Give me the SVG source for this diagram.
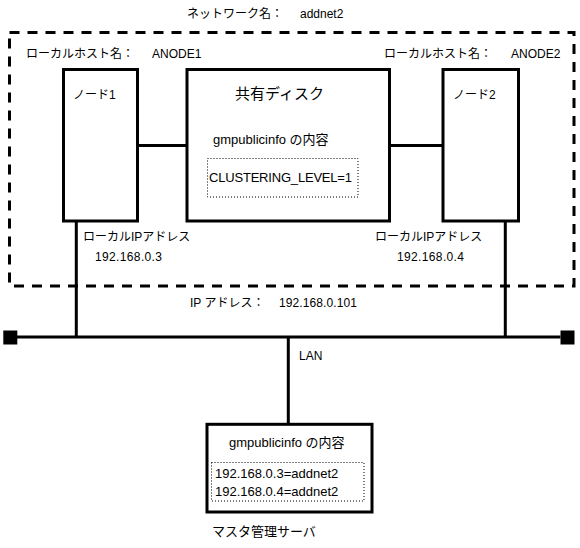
<svg xmlns="http://www.w3.org/2000/svg" width="580" height="548" viewBox="0 0 580 548">
<style>
text{font-family:"Liberation Sans","Noto Sans CJK JP",sans-serif;font-size:12px;fill:#000}
.m{font-size:13px}
.h{font-size:15px}
.box{fill:#fff;stroke:#000;stroke-width:3}
.dot{fill:none;stroke:#000;stroke-width:1;stroke-dasharray:1 2}
.ln{fill:none;stroke:#000;stroke-width:3}
</style>
<rect width="580" height="548" fill="#fff"/>
<g id="network">
<rect x="9.5" y="32.5" width="564.5" height="253.5" fill="none" stroke="#000" stroke-width="3" stroke-dasharray="10 8"/>
<text x="187" y="18">ネットワーク名：</text>
<text x="300" y="18">addnet2</text>
<text x="26" y="58">ローカルホスト名：</text>
<text x="152" y="58">ANODE1</text>
<text x="384" y="58">ローカルホスト名：</text>
<text x="511" y="58">ANODE2</text>
</g>
<g id="connectors">
<path class="ln" d="M138 145.5H187M389.5 145.5H443M76.3 221V337M505.3 221V337M17 337H560.5M288.3 337V424"/>
<rect x="3.3" y="330.5" width="14" height="14" fill="#000"/>
<rect x="560.5" y="330.5" width="14" height="14" fill="#000"/>
</g>
<g id="node1">
<rect class="box" x="63.5" y="69.5" width="74" height="151.5"/>
<text x="73" y="99">ノード1</text>
<text x="83" y="241">ローカルIPアドレス</text>
<text x="95" y="261" textLength="67">192.168.0.3</text>
</g>
<g id="disk">
<rect class="box" x="187" y="69.5" width="202.5" height="151.5"/>
<text class="h" x="235" y="99">共有ディスク</text>
<text class="m" x="213" y="144">gmpublicinfo の内容</text>
<rect class="dot" x="207.5" y="158.5" width="150.5" height="38.5"/>
<text class="m" x="209" y="182" textLength="143">CLUSTERING_LEVEL=1</text>
</g>
<g id="node2">
<rect class="box" x="443" y="69.5" width="75.5" height="151.5"/>
<text x="453" y="99">ノード2</text>
<text x="375" y="241">ローカルIPアドレス</text>
<text x="397" y="261" textLength="67">192.168.0.4</text>
</g>
<g id="lan">
<text x="190" y="307">IP アドレス：</text>
<text x="279" y="307" textLength="78">192.168.0.101</text>
<text x="299" y="360">LAN</text>
</g>
<g id="master">
<rect class="box" x="207" y="424.3" width="165" height="87.7"/>
<text class="m" x="229" y="447">gmpublicinfo の内容</text>
<rect class="dot" x="211.5" y="462.5" width="152.5" height="38.5"/>
<text class="m" x="215" y="478">192.168.0.3=addnet2</text>
<text class="m" x="215" y="496">192.168.0.4=addnet2</text>
<text class="m" x="212" y="536">マスタ管理サーバ</text>
</g>
</svg>
